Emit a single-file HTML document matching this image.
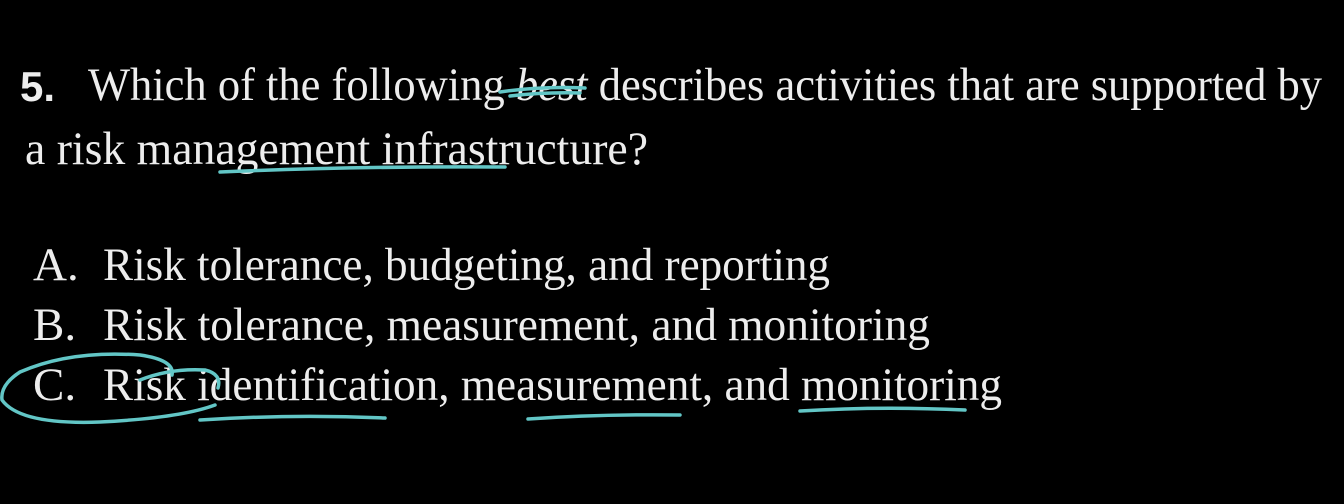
<!DOCTYPE html>
<html><head><meta charset="utf-8"><style>
html,body{margin:0;padding:0;background:#000;width:1344px;height:504px;overflow:hidden}
svg{display:block}
.q{font-family:"Liberation Serif",serif;fill:#ededed;font-size:47px}
.n{font-family:"Liberation Sans",sans-serif;fill:#ededed;font-size:42px;font-weight:bold}
.pen{fill:none;stroke:#62c6c6;stroke-width:3.5;stroke-linecap:round;stroke-linejoin:round}
</style></head><body>
<svg width="1344" height="504" viewBox="0 0 1344 504">
<text class="n" x="20" y="101">5.</text>
<text class="q" x="88" y="100" textLength="1234" lengthAdjust="spacingAndGlyphs">Which of the following <tspan font-style="italic">best</tspan> describes activities that are supported by</text>
<text class="q" x="25" y="164" textLength="623" lengthAdjust="spacingAndGlyphs">a risk management infrastructure?</text>

<text class="q" x="33" y="280">A.</text>
<text class="q" x="103" y="280" textLength="727" lengthAdjust="spacingAndGlyphs">Risk tolerance, budgeting, and reporting</text>
<text class="q" x="33" y="340">B.</text>
<text class="q" x="103" y="340" textLength="827" lengthAdjust="spacingAndGlyphs">Risk tolerance, measurement, and monitoring</text>
<text class="q" x="33" y="400">C.</text>
<text class="q" x="103" y="400" textLength="899" lengthAdjust="spacingAndGlyphs">Risk identification, measurement, and monitoring</text>

<g>
<path class="pen" d="M500 92 Q540 86 585 88 M510 96 Q545 92 580 93"/>
<path class="pen" d="M220 172 Q360 166 505 167"/>
<path class="pen" d="M172 375 Q175 360 140 355 Q70 350 20 372 Q0 385 2 400 Q20 425 100 422 Q180 418 215 405"/>
<path class="pen" d="M140 380 Q170 368 205 370 Q222 374 218 388"/>
<path class="pen" d="M200 420 Q290 414 385 418"/>
<path class="pen" d="M528 419 Q600 414 680 415"/>
<path class="pen" d="M800 411 Q880 406 965 410"/>
</g>
</svg>
</body></html>
